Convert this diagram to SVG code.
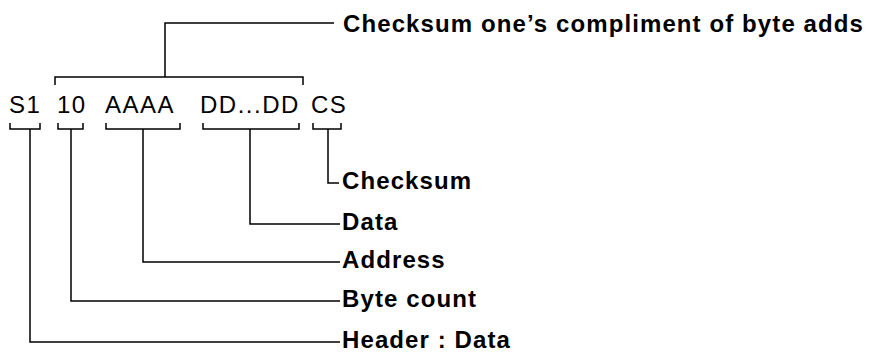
<svg xmlns="http://www.w3.org/2000/svg" width="870" height="354" viewBox="0 0 870 354">
<style>
.f{font-family:"Liberation Sans",Arial,sans-serif;font-size:24px;letter-spacing:1.5px;fill:#000}
.l{font-family:"Liberation Sans",Arial,sans-serif;font-size:24px;font-weight:bold;letter-spacing:1.1px;fill:#000}
.c{fill:none;stroke:#000;stroke-width:1.5}
</style>
<rect width="870" height="354" fill="#fff"/>
<g id="fields">
<text class="f" x="9" y="113">S1</text>
<text class="f" x="57" y="113">10</text>
<text class="f" x="105" y="113">AAAA</text>
<text class="f" x="200" y="113">DD...DD</text>
<text class="f" x="311" y="113">CS</text>
</g>
<g id="label-top"><text class="l" x="343" y="32">Checksum one’s compliment of byte adds</text></g>
<g id="label-checksum"><text class="l" x="342" y="189">Checksum</text></g>
<g id="label-data"><text class="l" x="342" y="230">Data</text></g>
<g id="label-address"><text class="l" x="342" y="268">Address</text></g>
<g id="label-bytecount"><text class="l" x="342" y="307">Byte count</text></g>
<g id="label-header"><text class="l" x="342" y="348">Header : Data</text></g>
<g id="connectors">
<path class="c" d="M55,85 V77 H303 V85"/>
<path class="c" d="M165,77 V23 H334"/>
<path class="c" d="M10,123 V129 H40 V123"/>
<path class="c" d="M58,123 V129 H83 V123"/>
<path class="c" d="M106,123 V129 H180 V123"/>
<path class="c" d="M203,123 V129 H299 V123"/>
<path class="c" d="M313,123 V129 H341 V123"/>
<path class="c" d="M30,129 V342 H340"/>
<path class="c" d="M71,129 V301 H340"/>
<path class="c" d="M143,129 V262 H340"/>
<path class="c" d="M250,129 V224 H340"/>
<path class="c" d="M328,129 V183 H339"/>
</g>
</svg>
